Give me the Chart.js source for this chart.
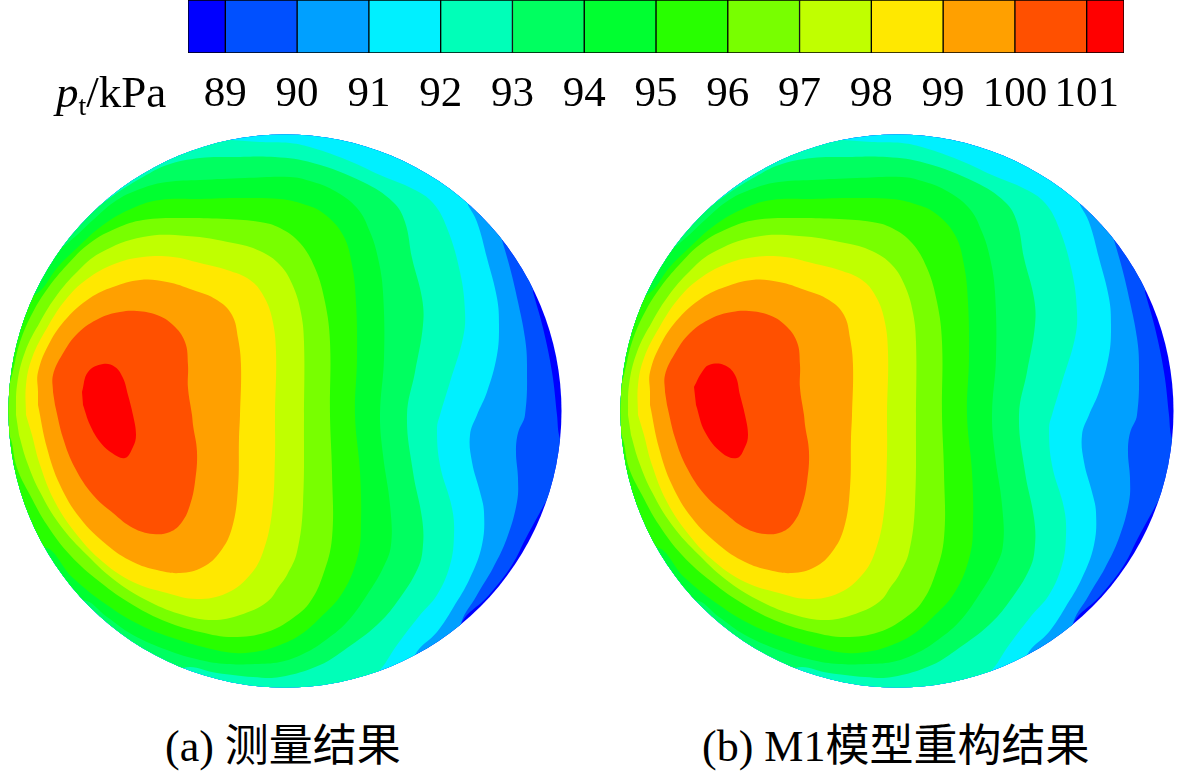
<!DOCTYPE html>
<html>
<head>
<meta charset="utf-8">
<script src="https://cdn.jsdelivr.net/npm/chart.js@4"></script>
<style>
  html, body { margin: 0; padding: 0; background: #fff; overflow: hidden; }
  body { position: relative; width: 1181px; height: 778px; }
  canvas { position: absolute; }
  .txt { position: absolute; white-space: nowrap; color: #000; line-height: 1;
         font-family: "Liberation Serif", "Noto Sans CJK SC", serif; font-size: 44px; }
  .txt sub { font-size: 28px; vertical-align: baseline; position: relative; top: 8px; }
</style>
</head>
<body>
<canvas id="bar" width="1181" height="125" style="left:0;top:0"></canvas>
<canvas id="discA" width="568" height="568" style="left:1px;top:127px"></canvas>
<canvas id="discB" width="568" height="568" style="left:613px;top:127px"></canvas>
<div class="txt" style="left:56px;top:70px;font-size:45px"><i>p</i><sub>t</sub>/kPa</div>
<div class="txt" style="left:165px;top:725px">(a) 测量结果</div>
<div class="txt" style="left:702px;top:725px">(b) M1模型重构结果</div>
<script>
// colour bar
const barEdges = [88.48, 89, 90, 91, 92, 93, 94, 95, 96, 97, 98, 99, 100, 101, 101.52];
const barColors = ['#0000ff', '#0050ff', '#00a0ff', '#00f0ff', '#00ffb8', '#00ff60', '#00ff30',
                   '#28ff00', '#78ff00', '#c0ff00', '#ffe800', '#ffa000', '#ff5000', '#ff0000'];
const tickLabels = [89, 90, 91, 92, 93, 94, 95, 96, 97, 98, 99, 100, 101];

const discRadius = 276.5;
const outer = [[-284, -284], [284, -284], [284, 284], [-284, 284]];

const a89 = [[248,119],[258,83],[267,39],[272,-4],[274,-24],[282,-55],[263,-87],[241,-127],[227,-154],[204,-184],[175,-216],[170,-284],[-284,-284],[-284,284],[240,284]];
const a90 = [[217,171],[225,143],[233,109],[240,73],[242,46],[240,-4],[233,-22],[231,-41],[233,-67],[232,-91],[222,-127],[208,-157],[192,-184],[175,-216],[170,-284],[-284,-284],[-284,284],[225,284]];
const a91 = [[183,206],[192,189],[202,153],[212,113],[214,86],[212,56],[202,19],[192,-4],[185,-24],[187,-51],[195,-81],[199,-101],[197,-134],[185,-167],[168,-197],[152,-221],[130,-244],[120,-284],[-284,-284],[-284,284],[190,284]];
const a92 = [[-55,271],[-25,269],[5,268],[28,263],[62,251],[95,236],[128,222],[148,208],[162,183],[175,139],[180,99],[178,73],[165,29],[155,-4],[152,-17],[155,-54],[167,-97],[169,-124],[165,-154],[152,-184],[135,-204],[112,-234],[92,-262],[60,-284],[-284,-284],[-284,284],[-55,284]];
const a93 = [[-195,198],[-168,218],[-142,234],[-118,246],[-85,253],[-52,254],[-10,254],[28,248],[78,229],[108,209],[120,189],[127,153],[137,113],[138,86],[130,39],[122,-4],[128,-61],[137,-107],[138,-134],[133,-157],[112,-191],[92,-214],[62,-237],[35,-254],[-5,-266],[-32,-266],[-68,-262],[-102,-257],[-150,-284],[-284,-284],[-284,220]];
const a94 = [[-222,164],[-208,176],[-192,191],[-168,211],[-142,223],[-118,229],[-85,231],[-40,233],[5,234],[25,230],[48,221],[72,203],[85,179],[93,153],[98,119],[99,53],[95,-4],[98,-44],[105,-94],[106,-134],[98,-157],[82,-184],[62,-211],[38,-231],[18,-243],[-5,-251],[-30,-253],[-58,-253],[-85,-249],[-118,-239],[-152,-224],[-178,-206],[-203,-189],[-284,-200],[-284,170]];
const a95 = [[-250,116],[-242,123],[-228,143],[-208,163],[-182,186],[-152,203],[-125,211],[-85,212],[-45,213],[-5,212],[18,207],[38,198],[58,176],[67,146],[71,109],[72,53],[70,-4],[75,-61],[76,-111],[73,-144],[58,-181],[35,-207],[15,-224],[-5,-234],[-25,-240],[-50,-242],[-78,-237],[-112,-227],[-145,-214],[-178,-194],[-212,-167],[-242,-136],[-284,-160],[-284,0],[-284,150]];
const a96 = [[-277,23],[-273,36],[-265,69],[-252,99],[-237,123],[-218,146],[-195,168],[-168,183],[-142,191],[-105,193],[-58,192],[-25,189],[-5,183],[15,168],[30,143],[40,109],[45,69],[45,-4],[47,-61],[47,-127],[38,-164],[25,-191],[8,-207],[-18,-221],[-52,-226],[-85,-221],[-118,-211],[-152,-194],[-185,-171],[-215,-144],[-238,-114],[-255,-84],[-268,-57],[-276,-24],[-284,-30],[-284,30]];
const a97 = [[-269,-4],[-268,26],[-260,59],[-245,89],[-228,116],[-208,139],[-185,158],[-142,174],[-98,175],[-52,168],[-25,160],[-5,146],[8,125],[16,98],[19,69],[19,-4],[18,-94],[12,-141],[2,-164],[-5,-174],[-18,-191],[-45,-204],[-72,-209],[-102,-204],[-135,-191],[-168,-171],[-198,-144],[-225,-114],[-245,-81],[-258,-51],[-266,-24]];
const a98 = [[-259,-4],[-259,26],[-253,53],[-238,83],[-218,113],[-195,134],[-168,148],[-142,154],[-112,154],[-85,148],[-58,141],[-35,131],[-22,116],[-13,93],[-9,59],[-10,-4],[-10,-44],[-13,-101],[-22,-141],[-35,-164],[-58,-182],[-88,-188],[-118,-182],[-152,-171],[-182,-151],[-208,-124],[-230,-91],[-245,-54],[-253,-24]];
const a99 = [[-247,19],[-247,39],[-235,69],[-218,93],[-195,113],[-172,124],[-145,131],[-118,129],[-92,121],[-68,111],[-53,96],[-47,73],[-44,46],[-45,-4],[-46,-27],[-47,-77],[-53,-117],[-65,-141],[-82,-156],[-105,-162],[-128,-159],[-152,-151],[-178,-134],[-205,-107],[-225,-74],[-238,-37],[-247,6]];
const a100 = [[-232,19],[-232,36],[-223,56],[-207,78],[-185,93],[-165,99],[-148,100],[-128,96],[-112,86],[-100,69],[-97,46],[-97,23],[-93,-4],[-92,-14],[-88,-41],[-90,-71],[-95,-94],[-103,-111],[-115,-121],[-132,-123],[-152,-117],[-172,-102],[-192,-84],[-210,-57],[-222,-27],[-230,6]];
const a101 = [[-203,19],[-197,39],[-182,47],[-170,44],[-162,33],[-157,16],[-152,-4],[-149,-24],[-152,-36],[-160,-47],[-173,-42],[-185,-31],[-195,-14],[-202,6]];

const b101 = [[-203,24],[-195,39],[-188,46],[-173,46],[-162,36],[-157,16],[-152,-4],[-149,-24],[-152,-36],[-160,-47],[-175,-42],[-192,-21],[-201,6]];

const contoursA = [a101, a100, a99, a98, a97, a96, a95, a94, a93, a92, a91, a90, a89, outer];
const contoursB = [b101, a100, a99, a98, a97, a96, a95, a94, a93, a92, a91, a90, a89, outer];
const fillColors = barColors.slice().reverse();

new Chart(document.getElementById('bar'), {
  type: 'bar',
  data: {
    labels: [''],
    datasets: barColors.map((c, i) => ({
      data: [[barEdges[i], barEdges[i + 1]]],
      backgroundColor: c,
      borderColor: '#000',
      borderWidth: 1,
      borderSkipped: false,
      grouped: false,
      barPercentage: 1,
      categoryPercentage: 1
    }))
  },
  options: {
    indexAxis: 'y',
    responsive: false,
    animation: false,
    layout: { padding: { left: 188, right: 57 } },
    plugins: { legend: { display: false }, tooltip: { enabled: false } },
    scales: {
      y: { display: false },
      x: {
        min: barEdges[0],
        max: barEdges[barEdges.length - 1],
        grid: { display: false, drawTicks: false },
        border: { display: false },
        afterBuildTicks: s => { s.ticks = tickLabels.map(v => ({ value: v })); },
        afterFit: s => { s.height = 72; },
        ticks: {
          autoSkip: false,
          maxRotation: 0,
          padding: 16,
          color: '#000',
          font: { family: '"Liberation Serif", serif', size: 43 }
        }
      }
    }
  }
});

// trims the filled contours to the circular section
const discClip = {
  id: 'discClip',
  beforeDatasetsDraw(chart) {
    const cx = chart.scales.x.getPixelForValue(0);
    const cy = chart.scales.y.getPixelForValue(0);
    const r = chart.scales.x.getPixelForValue(discRadius) - cx;
    chart.ctx.save();
    chart.ctx.beginPath();
    chart.ctx.arc(cx, cy, r, 0, Math.PI * 2);
    chart.ctx.clip();
  },
  afterDatasetsDraw(chart) {
    chart.ctx.restore();
  }
};

function drawDisc(id, contours) {
  new Chart(document.getElementById(id), {
    type: 'scatter',
    data: {
      datasets: contours.map((pts, i) => ({
        data: pts,
        showLine: true,
        fill: 'shape',
        tension: i === contours.length - 1 ? 0 : 0.4,
        backgroundColor: fillColors[i],
        borderColor: 'transparent',
        borderWidth: 0,
        pointRadius: 0
      }))
    },
    options: {
      responsive: false,
      animation: false,
      layout: { padding: 0 },
      plugins: { legend: { display: false }, tooltip: { enabled: false } },
      scales: {
        x: { type: 'linear', display: false, min: -284, max: 284 },
        y: { type: 'linear', display: false, min: -284, max: 284 }
      }
    },
    plugins: [discClip]
  });
}

drawDisc('discA', contoursA);
drawDisc('discB', contoursB);
</script>
</body>
</html>
